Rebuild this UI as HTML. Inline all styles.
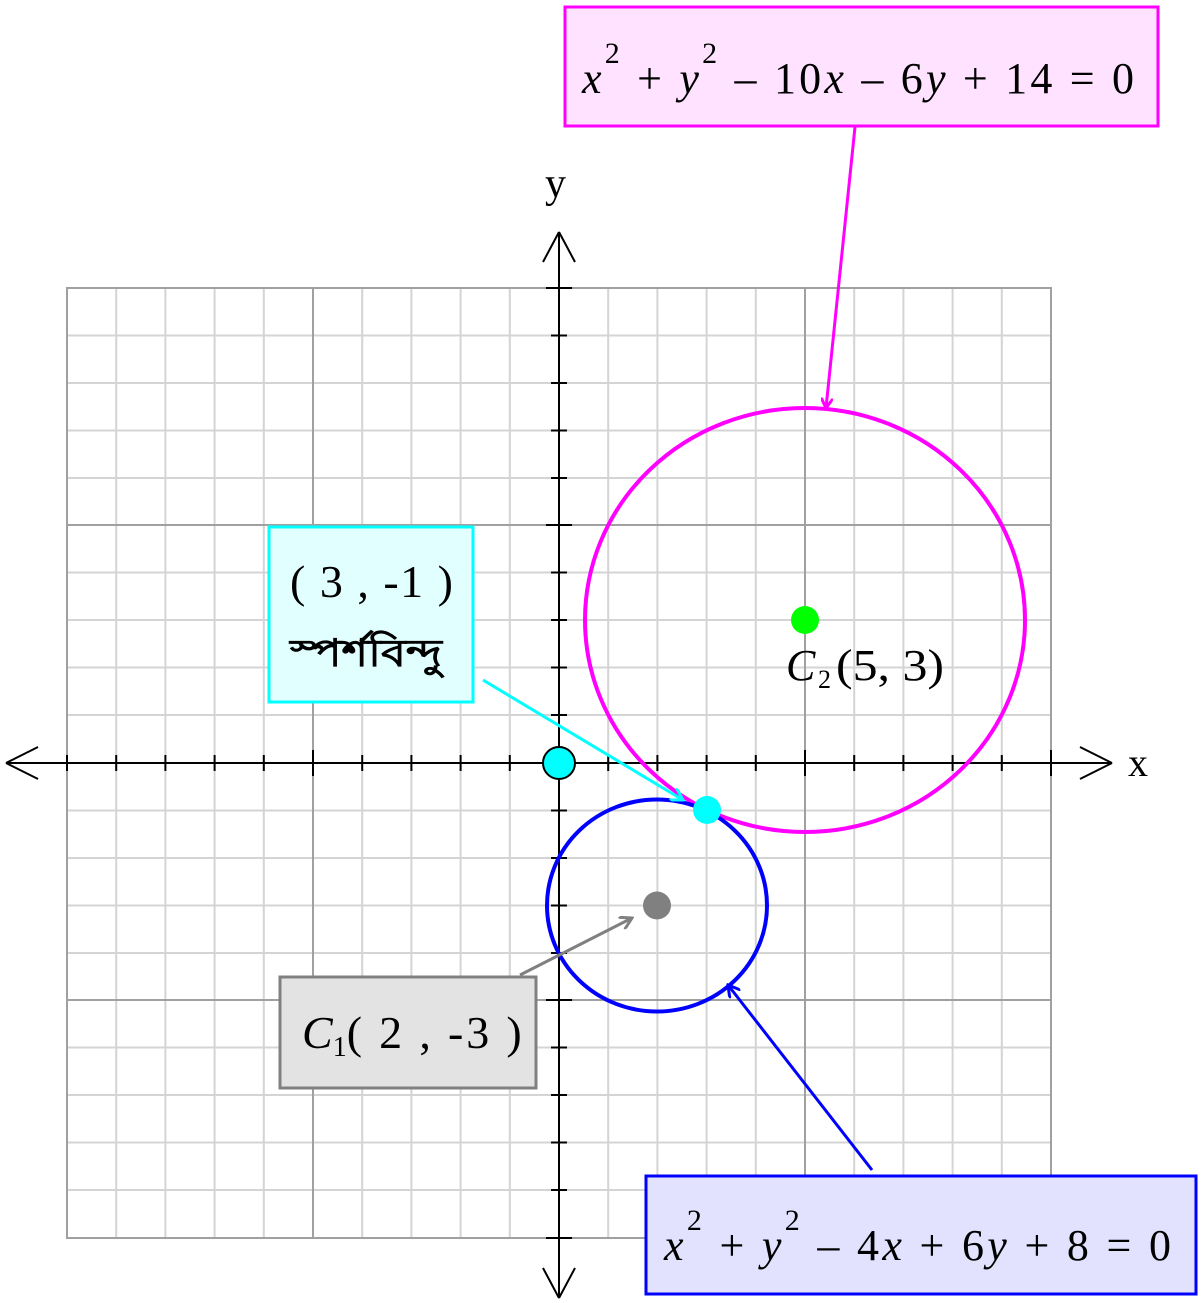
<!DOCTYPE html>
<html><head><meta charset="utf-8"><style>
html,body{margin:0;padding:0;background:#fff}
svg{display:block}
text{font-family:"Liberation Serif",serif}
</style></head><body>
<svg width="1203" height="1303" viewBox="0 0 1203 1303" xmlns="http://www.w3.org/2000/svg">
<defs>
<marker id="am" markerWidth="12" markerHeight="12" refX="10" refY="6" orient="auto" markerUnits="userSpaceOnUse"><path d="M0,0 L10,6 L0,12" fill="none" stroke="#f0f" stroke-width="3"/></marker>
<marker id="ac" markerWidth="14" markerHeight="14" refX="12" refY="7" orient="auto" markerUnits="userSpaceOnUse"><path d="M0,0 L12,7 L0,14" fill="none" stroke="#0ff" stroke-width="3"/></marker>
<marker id="ag" markerWidth="14" markerHeight="14" refX="12" refY="7" orient="auto" markerUnits="userSpaceOnUse"><path d="M0,0 L12,7 L0,14" fill="none" stroke="#808080" stroke-width="3"/></marker>
<marker id="ab" markerWidth="14" markerHeight="14" refX="12" refY="7" orient="auto" markerUnits="userSpaceOnUse"><path d="M0,0 L12,7 L0,14" fill="none" stroke="#00f" stroke-width="3"/></marker>
</defs>
<g stroke="#d4d4d4" stroke-width="2">
<path d="M116.2,288V1238M165.4,288V1238M214.6,288V1238M263.8,288V1238M362.2,288V1238M411.4,288V1238M460.6,288V1238M509.8,288V1238M608.2,288V1238M657.4,288V1238M706.6,288V1238M755.8,288V1238M854.2,288V1238M903.4,288V1238M952.6,288V1238M1001.8,288V1238"/>
<path d="M67,335.5H1051M67,383H1051M67,430.5H1051M67,478H1051M67,572.5H1051M67,620H1051M67,667.5H1051M67,715H1051M67,810.5H1051M67,858H1051M67,905.5H1051M67,953H1051M67,1047.5H1051M67,1095H1051M67,1142.5H1051M67,1190H1051"/>
</g>
<g stroke="#a0a0a0" stroke-width="2" fill="none">
<rect x="67" y="288" width="984" height="950"/>
<path d="M313,288V1238M805,288V1238M67,525H1051M67,1000H1051"/>
</g>
<g stroke="#000" stroke-width="2" fill="none">
<path d="M6,763H1112M6,763L38,747M6,763L38,779M1112,763L1080,747M1112,763L1080,779"/>
<path d="M559,232V1298M559,232L543,262M559,232L575,262M559,1298L543,1268M559,1298L575,1268"/>
<path d="M67,755V771M116.2,755V771M165.4,755V771M214.6,755V771M263.8,755V771M313,750V776M362.2,755V771M411.4,755V771M460.6,755V771M509.8,755V771M608.2,755V771M657.4,755V771M706.6,755V771M755.8,755V771M805,750V776M854.2,755V771M903.4,755V771M952.6,755V771M1001.8,755V771M1051,750V776"/>
<path d="M546,288H572M551,335.5H567M551,383H567M551,430.5H567M551,478H567M546,525H572M551,572.5H567M551,620H567M551,667.5H567M551,715H567M551,810.5H567M551,858H567M551,905.5H567M551,953H567M546,1000H572M551,1047.5H567M551,1095H567M551,1142.5H567M551,1190H567M546,1238H572"/>
</g>
<text x="1128" y="776" font-size="40">x</text>
<text x="545" y="197" font-size="42">y</text>
<ellipse cx="805" cy="620" rx="220" ry="212" fill="none" stroke="#f0f" stroke-width="4"/>
<ellipse cx="657" cy="905.5" rx="110" ry="106" fill="none" stroke="#00f" stroke-width="4"/>
<circle cx="805" cy="620" r="14" fill="#0f0"/>
<circle cx="657" cy="905.5" r="14" fill="#808080"/>
<circle cx="559" cy="763" r="16" fill="#0ff" stroke="#000" stroke-width="2"/>
<circle cx="707" cy="810" r="14" fill="#0ff"/>
<text x="786" y="680" font-size="44" font-style="italic">C</text><text x="818" y="688" font-size="26">2</text><text x="836" y="680" font-size="44" textLength="108" lengthAdjust="spacingAndGlyphs">(5, 3)</text>
<line x1="855" y1="127" x2="826" y2="408" stroke="#f0f" stroke-width="3" marker-end="url(#am)"/>
<line x1="483" y1="680" x2="683" y2="800" stroke="#0ff" stroke-width="3" marker-end="url(#ac)"/>
<line x1="520" y1="975" x2="632" y2="918" stroke="#808080" stroke-width="3" marker-end="url(#ag)"/>
<line x1="872" y1="1170" x2="728" y2="985" stroke="#00f" stroke-width="3" marker-end="url(#ab)"/>
<rect x="565" y="7" width="593" height="119" fill="#ffe2ff" stroke="#f0f" stroke-width="3"/>
<text x="582" y="93" font-size="44" textLength="552" lengthAdjust="spacing"><tspan font-style="italic">x</tspan><tspan dy="-30" font-size="30">2</tspan><tspan dy="30"> + </tspan><tspan font-style="italic">y</tspan><tspan dy="-30" font-size="30">2</tspan><tspan dy="30"> – 10</tspan><tspan font-style="italic">x</tspan><tspan> – 6</tspan><tspan font-style="italic">y</tspan><tspan> + 14 = 0</tspan></text>
<rect x="269" y="527" width="204" height="175" fill="#e2ffff" stroke="#0ff" stroke-width="3"/>
<text x="290" y="597" font-size="46" textLength="163" lengthAdjust="spacing">( 3 , -1 )</text>
<text x="290" y="666" font-size="38" font-weight="bold" textLength="152" lengthAdjust="spacingAndGlyphs" font-family="'Liberation Serif','Noto Sans Bengali',serif">স্পর্শবিন্দু</text>
<rect x="280" y="977" width="256" height="111" fill="#e3e3e3" stroke="#808080" stroke-width="3"/>
<text x="302" y="1048" font-size="46"><tspan font-style="italic">C</tspan><tspan font-size="28" dy="8">1</tspan><tspan dy="-8" textLength="175" lengthAdjust="spacing">( 2 , -3 )</tspan></text>
<rect x="646" y="1176" width="550" height="118" fill="#e2e2ff" stroke="#00f" stroke-width="3"/>
<text x="664" y="1260" font-size="44" textLength="507" lengthAdjust="spacing"><tspan font-style="italic">x</tspan><tspan dy="-30" font-size="30">2</tspan><tspan dy="30"> + </tspan><tspan font-style="italic">y</tspan><tspan dy="-30" font-size="30">2</tspan><tspan dy="30"> – 4</tspan><tspan font-style="italic">x</tspan><tspan> + 6</tspan><tspan font-style="italic">y</tspan><tspan> + 8 = 0</tspan></text>
</svg>
</body></html>
